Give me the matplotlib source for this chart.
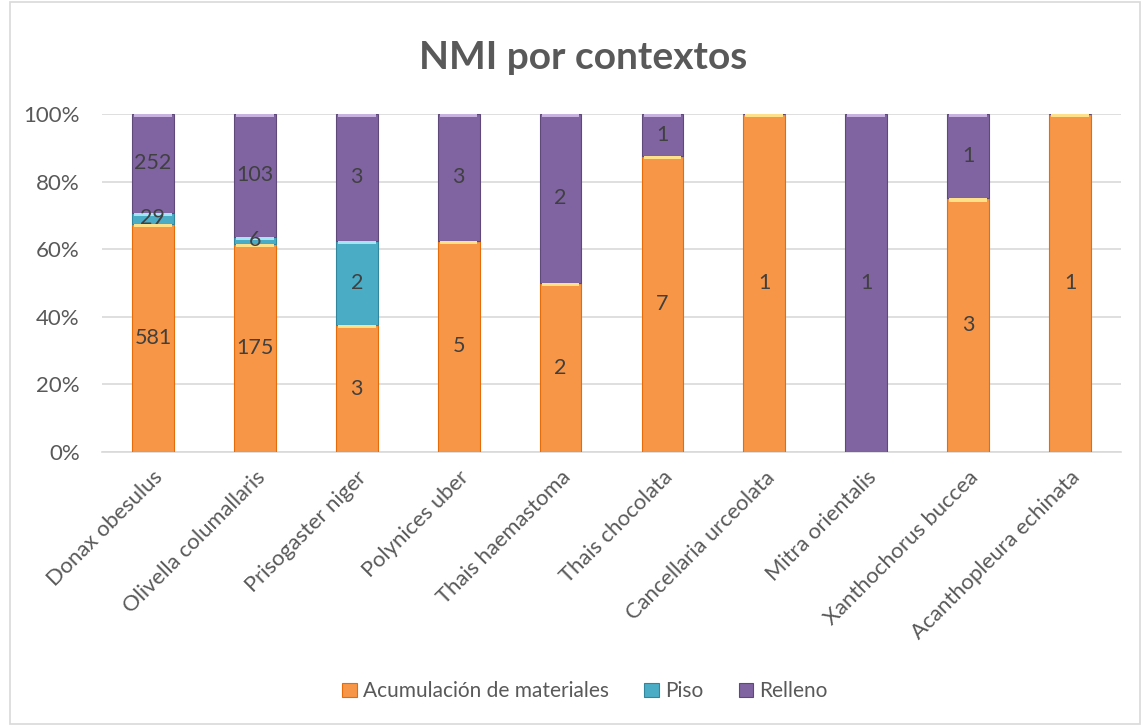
import matplotlib.pyplot as plt
from matplotlib.patches import Rectangle
import numpy as np

plt.rcParams['font.family'] = ['Lato', 'DejaVu Sans']

especies = ['Donax obesulus', 'Olivella columallaris', 'Prisogaster niger',
            'Polynices uber', 'Thais haemastoma', 'Thais chocolata',
            'Cancellaria urceolata', 'Mitra orientalis', 'Xanthochorus buccea',
            'Acanthopleura echinata']
acumulacion = [581, 175, 3, 5, 2, 7, 1, 0, 3, 1]
piso = [29, 6, 2, 0, 0, 0, 0, 0, 0, 0]
relleno = [252, 103, 3, 3, 2, 1, 0, 1, 1, 0]

# nombre, valores, color, borde, brillo superior
series = [('Acumulación de materiales', acumulacion, '#F79646', '#E46C0A', '#FFE08A'),
          ('Piso', piso, '#4BACC6', '#31859C', '#A5E4F2'),
          ('Relleno', relleno, '#8064A2', '#5F497A', '#C7B2E0')]

totales = np.array(acumulacion) + np.array(piso) + np.array(relleno)

fig = plt.figure(figsize=(11.47, 7.26), dpi=100)
ax = fig.add_axes([0.0889, 0.3774, 0.8884, 0.4656])

x = np.arange(len(especies))
base = np.zeros(len(especies))
for nombre, vals, color, borde, brillo in series:
    pct = np.array(vals) / totales * 100
    ax.bar(x, pct, bottom=base, width=0.41, color=color, edgecolor=borde,
           linewidth=0.8, label=nombre, zorder=3)
    # franja clara en la parte superior de cada segmento
    alto = np.minimum(pct, 0.9)
    ax.bar(x, alto, bottom=base + pct - alto, width=0.37, color=brillo,
           linewidth=0, zorder=3.5)
    for i, v in enumerate(vals):
        if v > 0:
            ax.text(x[i], base[i] + pct[i] / 2, str(v), ha='center',
                    va='center', fontsize=15.5, color='#404040', zorder=4)
    base = base + pct

ax.set_xlim(-0.5, len(especies) - 0.5)
ax.set_ylim(0, 100)
ax.set_yticks(range(0, 101, 20))
ax.set_yticklabels([f'{v}%' for v in range(0, 101, 20)])
ax.grid(axis='y', color='#D9D9D9', linewidth=1.2, zorder=0)
ax.set_axisbelow(True)
for s in ['top', 'right', 'left']:
    ax.spines[s].set_visible(False)
ax.spines['bottom'].set_color('#D9D9D9')
ax.spines['bottom'].set_linewidth(1.2)
ax.tick_params(axis='y', length=0, labelsize=16, colors='#595959', pad=16)
ax.tick_params(axis='x', length=0, labelsize=15.8, colors='#595959', pad=11)
ax.set_xticks(x)
ax.set_xticklabels(especies, rotation=45, ha='right', rotation_mode='anchor')

fig.text(0.508, 0.921, 'NMI por contextos', ha='center', va='center',
         fontsize=28, fontweight='bold', color='#595959')

fig.legend(loc='center', bbox_to_anchor=(0.51, 0.048), ncol=3, frameon=False,
           fontsize=15, labelcolor='#595959', handlelength=0.7,
           handleheight=0.7, columnspacing=1.7, handletextpad=0.3)

fig.patches.append(Rectangle((0.009, 0.003), 0.985, 0.994, transform=fig.transFigure,
                             fill=False, edgecolor='#D9D9D9', linewidth=1.2))

fig.savefig('out.png', dpi=100)
